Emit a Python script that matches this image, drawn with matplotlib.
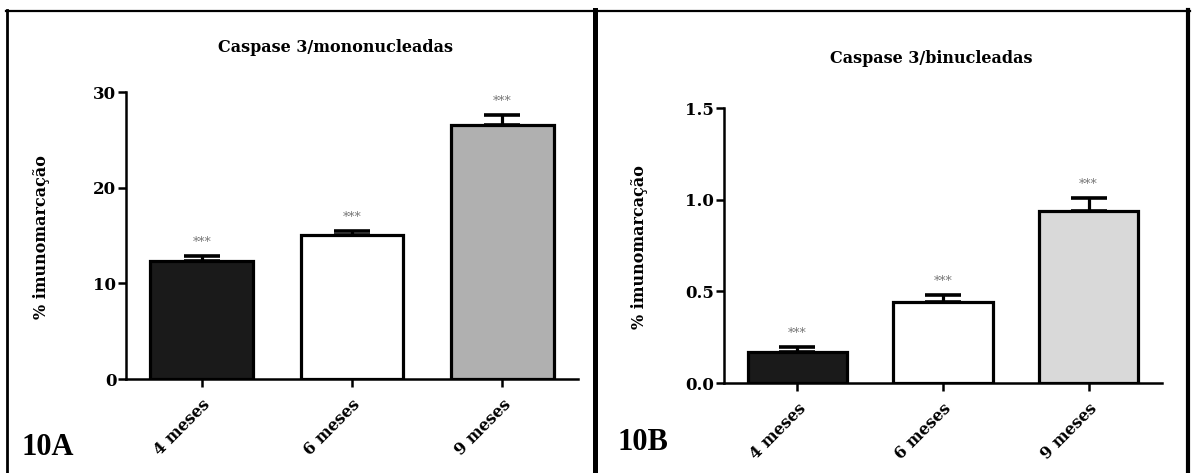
import matplotlib.pyplot as plt
from matplotlib.lines import Line2D

plt.rcParams['font.family'] = ['DejaVu Serif']
plt.rcParams['font.weight'] = 'bold'

groups = ["4 meses", "6 meses", "9 meses"]

mono_mean = [12.3, 15.05, 26.5]
mono_err = [0.55, 0.45, 1.05]

bin_mean = [0.17, 0.44, 0.94]
bin_err = [0.028, 0.04, 0.07]

mono_colors = ["#1a1a1a", "#ffffff", "#b0b0b0"]
bin_colors = ["#1a1a1a", "#ffffff", "#d9d9d9"]

fig = plt.figure(figsize=(11.92, 4.73), dpi=100)
W, H = 1192, 473


def px_axes(x0, x1, y_top, y_bot):
    return fig.add_axes([x0 / W, 1 - y_bot / H, (x1 - x0) / W, (y_bot - y_top) / H])


def panel(ax, means, errs, colors, ymax, yticks, ytl, title, tx, ty, lx, ly):
    x = range(len(groups))
    ax.bar(x, means, width=0.685, color=colors, edgecolor="black", linewidth=2.3, zorder=3)
    ax.errorbar(x, means, yerr=[[0] * 3, errs], fmt="none", ecolor="black",
                elinewidth=2.3, capsize=13, capthick=2.6, zorder=2)
    for i in x:
        ax.annotate("***", (i, means[i] + errs[i]), xytext=(0, 5),
                    textcoords="offset points", ha="center", va="bottom",
                    fontsize=9, color="#777777", fontweight="normal")
    ax.set_xlim(-0.505, 2.505)
    ax.set_ylim(0, ymax)
    ax.set_yticks(yticks)
    ax.set_yticklabels(ytl, fontsize=12, fontweight="bold")
    ax.set_xticks(list(x))
    ax.set_xticklabels(groups, rotation=45, ha="right", rotation_mode="anchor",
                       fontsize=11.5, fontweight="bold")
    for s in ["top", "right"]:
        ax.spines[s].set_visible(False)
    for s in ["left", "bottom"]:
        ax.spines[s].set_linewidth(1.8)
    ax.tick_params(axis="both", direction="out", length=6, width=1.8, pad=1)
    ax.tick_params(axis="x", pad=6)
    fig.text(tx / W, 1 - ty / H, title, ha="center", va="center", fontsize=11.5, fontweight="bold")
    fig.text(lx / W, 1 - ly / H, "% imunomarcação", ha="center", va="center",
             rotation=90, fontsize=11.5, fontweight="bold")
    return ax


ax1 = px_axes(126, 578, 92, 379)
panel(ax1, mono_mean, mono_err, mono_colors, 30, [0, 10, 20, 30], ["0", "10", "20", "30"],
      "Caspase 3/mononucleadas", 336, 47, 42, 237)

ax2 = px_axes(724, 1162, 108, 383)
panel(ax2, bin_mean, bin_err, bin_colors, 1.5, [0.0, 0.5, 1.0, 1.5], ["0.0", "0.5", "1.0", "1.5"],
      "Caspase 3/binucleadas", 931, 58, 640, 247)

fig.text(21 / W, 1 - 447 / H, "10A", ha="left", va="center", fontsize=22,
         fontweight="bold", family="Liberation Serif")
fig.text(617 / W, 1 - 443 / H, "10B", ha="left", va="center", fontsize=22,
         fontweight="bold", family="Liberation Serif")


# panel frames
def vline(x, y0, y1, lw):
    fig.add_artist(Line2D([x / W, x / W], [1 - y0 / H, 1 - y1 / H], color="black", lw=lw))


def hline(y, x0, x1, lw):
    fig.add_artist(Line2D([x0 / W, x1 / W], [1 - y / H, 1 - y / H], color="black", lw=lw))


hline(11, 6, 1190, 1.6)
vline(7, 10, 473, 2.0)
vline(594.5, 10, 473, 3.6)
vline(1188, 10, 473, 3.0)

fig.savefig("out.png", dpi=100)
